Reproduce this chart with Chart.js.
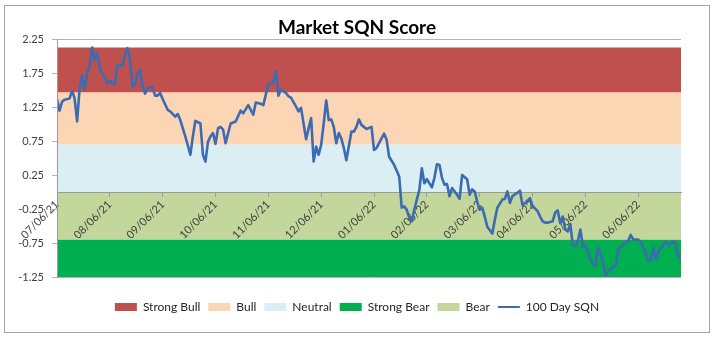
<!DOCTYPE html>
<html>
<head>
<meta charset="utf-8">
<script src="https://cdn.jsdelivr.net/npm/chart.js@4.4.1/dist/chart.umd.min.js"></script>
<style>
html,body{margin:0;padding:0;background:#fff;}
#wrap{position:relative;width:720px;height:339px;}
</style>
</head>
<body>
<div id="wrap"><canvas id="c" width="720" height="339"></canvas></div>
<script>
// ---------- data ----------
const chartTitle = 'Market SQN Score';
const xTickLabels = ['07/06/21','08/06/21','09/06/21','10/06/21','11/06/21','12/06/21',
                     '01/06/22','02/06/22','03/06/22','04/06/22','05/06/22','06/06/22'];
const xTickStep = 21;        // trading sessions between date labels
const xLastSession = 248;    // last session on the axis
const yTickValues = [-1.25, -0.75, -0.25, 0.25, 0.75, 1.25, 1.75, 2.25];

const bandNames   = ['Strong Bull', 'Bull', 'Neutral', 'Strong Bear', 'Bear'];
const bandTops    = [2.13, 1.47, 0.70, -0.70, 0.00];
const bandBottoms = [1.47, 0.70, 0.00, -1.25, -0.70];

const sqnLabel = '100 Day SQN';
const sqnSessions = [0,1,2,3,5,6,7,8,9,10,11,12,13,14,15,16,17,18,19,20,21,22,23,24,25,26,27,28,29,30,
  31,32,33,34,35,36,38,39,40,41,42,44,45,47,48,49,51,53,54,55,57,58,59,60,61,62,63,64,65,66,67,69,71,73,74,
  76,78,79,81,82,84,86,87,88,89,91,92,93,95,96,97,99,100,101,102,103,104,105,106,107,108,109,110,111,112,
  113,114,115,117,118,119,120,121,123,125,126,127,130,131,132,134,136,137,138,139,140,141,142,143,144,145,
  146,147,149,150,151,152,153,154,155,156,157,159,160,161,163,164,165,166,167,168,169,170,171,173,174,175,
  177,178,179,180,181,183,184,185,186,188,189,190,191,192,193,194,195,197,198,199,200,201,202,203,204,205,
  206,207,208,209,210,211,212,214,215,216,217,218,219,220,221,222,223,225,226,227,228,229,231,232,234,235,
  236,237,238,239,241,242,243,245,246,247,248];
const sqnValues = [1.37,1.20,1.33,1.36,1.38,1.49,1.38,1.04,1.53,1.72,1.51,1.75,1.87,2.13,1.95,2.04,1.81,1.75,
  1.69,1.60,1.64,1.61,1.59,1.87,1.88,1.86,2.02,2.12,1.97,1.55,1.58,1.75,1.80,1.55,1.45,1.54,1.54,1.42,1.42,
  1.46,1.37,1.21,1.19,1.11,1.15,1.06,0.82,0.55,0.82,1.05,1.01,0.55,0.45,0.74,0.82,0.87,0.71,0.94,0.96,0.92,
  0.72,1.01,1.04,1.20,1.16,1.28,1.14,1.32,1.30,1.28,1.59,1.61,1.78,1.42,1.51,1.46,1.41,1.39,1.26,1.19,1.24,
  0.78,0.94,1.09,0.45,0.67,0.55,0.70,1.01,1.35,1.06,1.07,0.96,0.72,0.87,0.79,0.65,0.47,0.89,0.89,0.96,1.07,
  0.99,0.93,0.96,0.62,0.65,0.86,0.77,0.52,0.40,0.23,-0.23,-0.21,-0.26,-0.38,-0.43,-0.26,-0.11,0.03,0.35,
  0.13,0.19,0.07,0.21,0.41,0.40,0.21,0.11,0.12,-0.06,0.06,-0.04,-0.10,0.25,0.19,-0.04,0.04,0.01,-0.14,-0.26,
  -0.23,-0.36,-0.51,-0.61,-0.41,-0.23,-0.11,-0.10,0.01,-0.16,-0.06,-0.01,0.02,-0.19,-0.16,-0.09,-0.21,-0.24,
  -0.28,-0.36,-0.43,-0.45,-0.45,-0.43,-0.30,-0.27,-0.46,-0.36,-0.55,-0.58,-0.47,-0.78,-0.80,-0.72,-0.55,
  -0.80,-0.78,-0.87,-1.00,-1.09,-0.82,-0.90,-1.04,-1.22,-1.17,-1.14,-1.09,-1.09,-0.85,-0.78,-0.75,-0.72,
  -0.63,-0.70,-0.70,-0.73,-0.90,-1.02,-1.00,-0.82,-0.99,-0.87,-0.78,-0.73,-0.78,-0.73,-0.77,-0.97,-0.93];

// ---------- styles ----------
const bandColors = ['#C0504D', '#FCD5B5', '#DBEEF4', '#00B050', '#C3D69B'];
const lineColor = '#3B6BB1';
const axisColor = '#9A9A9A';
const textColor = '#404040';

Chart.defaults.font.family = 'Lato, "Open Sans", sans-serif';

const datasets = bandNames.map((name, i) => ({
  type: 'line',
  label: name,
  data: [{x: 0, y: bandTops[i]}, {x: xLastSession, y: bandTops[i]}],
  backgroundColor: bandColors[i],
  borderColor: 'rgba(0,0,0,0)',
  borderWidth: 0,
  pointRadius: 0,
  pointBorderWidth: 0,
  pointBackgroundColor: bandColors[i],
  pointBorderColor: bandColors[i],
  pointStyle: 'rect',
  fill: {value: bandBottoms[i]},
  order: 1
}));
datasets.push({
  type: 'line',
  label: sqnLabel,
  data: sqnSessions.map((s, i) => ({x: s, y: sqnValues[i]})),
  borderColor: lineColor,
  borderWidth: 2.6,
  borderJoinStyle: 'round',
  pointRadius: 0,
  pointBorderWidth: 2,
  pointBorderColor: lineColor,
  pointStyle: 'line',
  fill: false,
  tension: 0,
  order: 0
});

const framePlugin = {
  id: 'frame',
  beforeDraw(chart) {
    const ctx = chart.ctx;
    ctx.save();
    ctx.fillStyle = '#ffffff';
    ctx.fillRect(0, 0, chart.width, chart.height);
    ctx.strokeStyle = '#A6A6A6';
    ctx.lineWidth = 1;
    ctx.strokeRect(4.5, 5.5, 705, 327);
    ctx.restore();
  }
};

// x axis crosses at 0: draw it above the bands but beneath the SQN line
const xAxisOverlay = {
  id: 'xAxisOverlay',
  beforeDatasetDraw(chart, args) {
    if (chart.data.datasets[args.index].label !== sqnLabel) return;
    const sx = chart.scales.x;
    chart.ctx.save();
    sx.drawGrid(chart.chartArea);
    sx.drawBorder();
    sx.drawLabels(chart.chartArea);
    chart.ctx.restore();
  }
};

new Chart(document.getElementById('c'), {
  type: 'line',
  data: {datasets},
  options: {
    responsive: false,
    animation: false,
    devicePixelRatio: 1,
    layout: {padding: {top: 8, left: 10, right: 16, bottom: 16}},
    scales: {
      x: {
        type: 'linear',
        display: false,
        position: {y: 0},
        min: 0,
        max: xLastSession,
        afterBuildTicks: (scale) => {
          scale.ticks = xTickLabels.map((_, i) => ({value: i * xTickStep}));
        },
        ticks: {
          autoSkip: false,
          maxRotation: 45,
          minRotation: 45,
          padding: 2,
          color: textColor,
          font: {size: 11},
          callback: (v) => xTickLabels[Math.round(v / xTickStep)]
        },
        grid: {display: true, drawOnChartArea: false, drawTicks: true, tickLength: 4, color: axisColor},
        border: {display: true, color: axisColor, width: 1}
      },
      y: {
        type: 'linear',
        position: 'left',
        min: -1.25,
        max: 2.25,
        afterBuildTicks: (scale) => {
          scale.ticks = yTickValues.map(v => ({value: v}));
        },
        afterFit: (scale) => { scale.width = 47; },
        ticks: {
          padding: 8,
          color: textColor,
          font: {size: 11},
          callback: (v) => Number(v).toFixed(2)
        },
        grid: {display: true, drawOnChartArea: true, drawTicks: true, tickLength: 5, color: '#B5B5B5'},
        border: {display: true, color: axisColor, width: 1, z: 1}
      },
      yRight: {
        type: 'linear',
        position: 'right',
        display: true,
        min: -1.25,
        max: 2.25,
        afterFit: (scale) => { scale.width = 23; },
        ticks: {display: false},
        grid: {display: false, drawTicks: false},
        border: {display: false}
      }
    },
    plugins: {
      title: {
        display: true,
        text: chartTitle,
        color: '#000000',
        font: {size: 19, weight: 'bold'},
        padding: {top: 8, bottom: 0.5}
      },
      legend: {
        display: true,
        position: 'bottom',
        title: {display: true, text: '', font: {size: 10, lineHeight: 1}, padding: {top: 0, bottom: 6}},
        labels: {
          usePointStyle: true,
          pointStyleWidth: 22,
          boxHeight: 8,
          padding: 8,
          color: '#262626',
          font: {size: 12},
          sort: (a, b) => a.datasetIndex - b.datasetIndex
        }
      },
      tooltip: {enabled: false}
    }
  },
  plugins: [framePlugin, xAxisOverlay]
});
</script>
</body>
</html>
